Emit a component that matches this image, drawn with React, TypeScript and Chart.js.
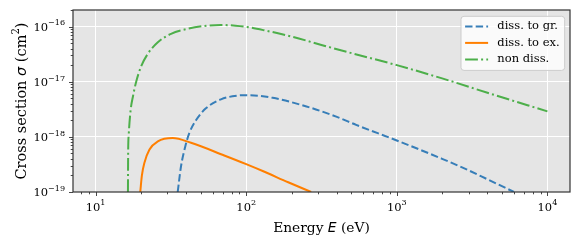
import React, { useEffect, useRef } from 'react';
import { Chart, registerables } from 'chart.js';

Chart.register(...registerables);

// ---- data ----
const energyGr = [35.1, 36.9, 39.4, 41.9, 46.4, 54, 68, 87.5, 100, 113, 150, 248, 400, 537, 1000, 2000, 2880, 4000, 6000];
const sigmaGr = [1e-19, 2.9e-19, 6.7e-19, 1.17e-18, 2.0e-18, 3.3e-18, 4.8e-18, 5.6e-18, 5.7e-18, 5.65e-18, 5.1e-18, 3.6e-18, 2.3e-18, 1.65e-18, 8.6e-19, 4.0e-19, 2.6e-19, 1.7e-19, 1e-19];

const energyEx = [19.8, 20.3, 21.1, 22.8, 25.9, 32.5, 43, 71.5, 100, 131, 190, 270];
const sigmaEx = [1e-19, 2.0e-19, 3.4e-19, 5.9e-19, 8.3e-19, 9.5e-19, 7.8e-19, 4.6e-19, 3.2e-19, 2.35e-19, 1.5e-19, 1e-19];

const energyNd = [16.4, 16.45, 16.6, 17.1, 17.7, 18.6, 20, 22.2, 25.9, 31.7, 40.8, 55, 68, 85, 100, 131, 200, 320, 500, 1000, 2000, 4000, 10000];
const sigmaNd = [1e-19, 5e-19, 1.1e-18, 3.1e-18, 5.4e-18, 1e-17, 1.86e-17, 3.2e-17, 5.2e-17, 7.4e-17, 9.1e-17, 1.04e-16, 1.07e-16, 1.04e-16, 0.99e-16, 8.6e-17, 6.6e-17, 4.6e-17, 3.3e-17, 2.0e-17, 1.15e-17, 6.3e-18, 2.9e-18];

const seriesLabels = ['diss. to gr.', 'diss. to ex.', 'non diss.'];
const xMajorTicks = [10, 100, 1000, 10000];
const yMajorTicks = [1e-19, 1e-18, 1e-17, 1e-16];
const xRange = [7.08, 14125];
const yRange = [1e-19, 2e-16];
const xTitleParts = ['Energy ', 'E', ' (eV)'];
const yTitleParts = ['Cross section ', 'σ', ' (cm', '2', ')'];

// ---- styles ----
const COLORS = ['#377eb8', '#ff7f00', '#4daf4a'];
const DASHES = [[7.4, 3.2], [], [12.8, 3.2, 2, 3.2]];
const LW = 2;
const SERIF = "'DejaVu Serif', serif";
const SANS = "'DejaVu Sans', sans-serif";
const TICK_FS = 11.5;
const TITLE_FS = 13.8;
const YTITLE_FS = 14.5;
const LEG_FS = 11.5;

const toPts = (xs: number[], ys: number[]) => xs.map((x, i) => ({ x, y: ys[i] }));

type Seg = { t: string; font: string; dy: number };

function drawSegs(ctx: CanvasRenderingContext2D, segs: Seg[], x: number, y: number, align: 'center' | 'right' | 'left') {
  let total = 0;
  const widths = segs.map((s) => {
    ctx.font = s.font;
    const w = ctx.measureText(s.t).width;
    total += w;
    return w;
  });
  let cx = align === 'center' ? x - total / 2 : align === 'right' ? x - total : x;
  ctx.textBaseline = 'alphabetic';
  ctx.textAlign = 'left';
  segs.forEach((s, i) => {
    ctx.font = s.font;
    ctx.fillText(s.t, cx, y + s.dy);
    cx += widths[i];
  });
}

function powSegs(v: number): Seg[] {
  const e = Math.round(Math.log10(v));
  const expStr = (e < 0 ? '\u2212' : '') + String(Math.abs(e));
  return [
    { t: '10', font: `${TICK_FS}px ${SERIF}`, dy: 0 },
    { t: expStr, font: `${TICK_FS * 0.7}px ${SERIF}`, dy: -TICK_FS * 0.45 },
  ];
}

function minorValues(min: number, max: number) {
  const out: { v: number; major: boolean }[] = [];
  for (let d = Math.floor(Math.log10(min)); d <= Math.ceil(Math.log10(max)); d++) {
    for (let m = 1; m <= 9; m++) {
      const v = m * Math.pow(10, d);
      if (v >= min * 0.9999 && v <= max * 1.0001) out.push({ v, major: m === 1 });
    }
  }
  return out;
}

const decorPlugin = {
  id: 'decor',
  beforeDraw(chart: any) {
    const { ctx, chartArea: a } = chart;
    ctx.save();
    ctx.fillStyle = '#e5e5e5';
    ctx.fillRect(a.left, a.top, a.right - a.left, a.bottom - a.top);
    ctx.restore();
  },
  afterDraw(chart: any) {
    const { ctx, chartArea: a } = chart;
    const xs = chart.scales.x;
    const ys = chart.scales.y;
    ctx.save();
    // frame
    ctx.strokeStyle = '#333333';
    ctx.lineWidth = 1.2;
    ctx.strokeRect(a.left, a.top, a.right - a.left, a.bottom - a.top);

    // tick marks
    ctx.strokeStyle = '#333333';
    ctx.lineWidth = 0.9;
    minorValues(xs.min, xs.max).forEach(({ v, major }) => {
      const px = Math.round(xs.getPixelForValue(v)) + 0.5;
      ctx.beginPath();
      ctx.moveTo(px, a.bottom);
      ctx.lineTo(px, a.bottom + (major ? 4 : 2.3));
      ctx.stroke();
    });
    minorValues(ys.min, ys.max).forEach(({ v, major }) => {
      const py = Math.round(ys.getPixelForValue(v)) + 0.5;
      ctx.beginPath();
      ctx.moveTo(a.left, py);
      ctx.lineTo(a.left - (major ? 4 : 2.3), py);
      ctx.stroke();
    });

    // tick labels
    ctx.fillStyle = '#000';
    xMajorTicks.forEach((v) => {
      drawSegs(ctx, powSegs(v), xs.getPixelForValue(v), a.bottom + 18.5, 'center');
    });
    yMajorTicks.forEach((v) => {
      drawSegs(ctx, powSegs(v), a.left - 8, ys.getPixelForValue(v) + 4, 'right');
    });

    // axis titles
    const xt: Seg[] = [
      { t: xTitleParts[0], font: `${TITLE_FS}px ${SERIF}`, dy: 0 },
      { t: xTitleParts[1], font: `italic ${TITLE_FS}px ${SANS}`, dy: 0 },
      { t: xTitleParts[2], font: `${TITLE_FS}px ${SERIF}`, dy: 0 },
    ];
    drawSegs(ctx, xt, (a.left + a.right) / 2, 232, 'center');

    const yt: Seg[] = [
      { t: yTitleParts[0], font: `${YTITLE_FS}px ${SERIF}`, dy: 0 },
      { t: yTitleParts[1], font: `italic ${YTITLE_FS}px ${SANS}`, dy: 0 },
      { t: yTitleParts[2], font: `${YTITLE_FS}px ${SERIF}`, dy: 0 },
      { t: yTitleParts[3], font: `${YTITLE_FS * 0.7}px ${SERIF}`, dy: -YTITLE_FS * 0.45 },
      { t: yTitleParts[4], font: `${YTITLE_FS}px ${SERIF}`, dy: 0 },
    ];
    ctx.save();
    ctx.translate(25.5, (a.top + a.bottom) / 2);
    ctx.rotate(-Math.PI / 2);
    drawSegs(ctx, yt, 0, 0, 'center');
    ctx.restore();

    // legend
    const pad = 4.6, handle = 23, htp = 9.2, pitch = 16.5;
    ctx.font = `${LEG_FS}px ${SERIF}`;
    const maxW = Math.max(...chart.data.datasets.map((d: any) => ctx.measureText(d.label).width));
    const w = pad * 2 + handle + htp + maxW;
    const h = pad * 2 + pitch * 3 - 4.6;
    const lx = a.right - 5.8 - w;
    const ly = a.top + 5.8;
    ctx.beginPath();
    (ctx as any).roundRect(lx + 0.5, ly + 0.5, w, h, 3);
    ctx.fillStyle = 'rgba(255,255,255,0.8)';
    ctx.fill();
    ctx.strokeStyle = '#cccccc';
    ctx.lineWidth = 1;
    ctx.stroke();
    chart.data.datasets.forEach((d: any, i: number) => {
      const cy = ly + pad + 6 + i * pitch;
      ctx.beginPath();
      ctx.setLineDash(d.borderDash || []);
      ctx.strokeStyle = d.borderColor;
      ctx.lineWidth = d.borderWidth;
      ctx.moveTo(lx + pad, cy);
      ctx.lineTo(lx + pad + handle, cy);
      ctx.stroke();
      ctx.setLineDash([]);
      ctx.fillStyle = '#000';
      ctx.font = `${LEG_FS}px ${SERIF}`;
      ctx.textAlign = 'left';
      ctx.textBaseline = 'middle';
      ctx.fillText(d.label, lx + pad + handle + htp, cy);
    });
    ctx.restore();
  },
};

export default function App() {
  const ref = useRef<HTMLCanvasElement | null>(null);
  useEffect(() => {
    if (!ref.current) return;
    const mk = (i: number, data: { x: number; y: number }[]) => ({
      label: seriesLabels[i],
      data,
      borderColor: COLORS[i],
      backgroundColor: COLORS[i],
      borderWidth: LW,
      borderDash: DASHES[i],
      pointRadius: 0,
      showLine: true,
      fill: false,
      cubicInterpolationMode: 'monotone' as const,
    });
    const chart = new Chart(ref.current, {
      type: 'scatter',
      data: {
        datasets: [
          mk(0, toPts(energyGr, sigmaGr)),
          mk(1, toPts(energyEx, sigmaEx)),
          mk(2, toPts(energyNd, sigmaNd)),
        ],
      },
      options: {
        animation: false,
        responsive: false,
        devicePixelRatio: 1,
        layout: { padding: { left: 0, top: 10, right: 11, bottom: 0 } },
        plugins: { legend: { display: false }, tooltip: { enabled: false } },
        scales: {
          x: {
            type: 'logarithmic',
            min: xRange[0],
            max: xRange[1],
            afterBuildTicks: (s: any) => { s.ticks = xMajorTicks.map((v) => ({ value: v })); },
            afterFit: (s: any) => { s.height = 54; },
            ticks: { display: false },
            grid: { color: '#ffffff', lineWidth: 1, drawTicks: false },
            border: { display: false },
          },
          y: {
            type: 'logarithmic',
            min: yRange[0],
            max: yRange[1],
            afterBuildTicks: (s: any) => { s.ticks = yMajorTicks.map((v) => ({ value: v })); },
            afterFit: (s: any) => { s.width = 73; },
            ticks: { display: false },
            grid: { color: '#ffffff', lineWidth: 1, drawTicks: false },
            border: { display: false },
          },
        },
      },
      plugins: [decorPlugin],
    });
    return () => chart.destroy();
  }, []);
  return (
    <div style={{ position: 'absolute', left: 0, top: 0, width: 581, height: 246 }}>
      <canvas ref={ref} width={581} height={246} style={{ display: 'block' }} />
    </div>
  );
}
